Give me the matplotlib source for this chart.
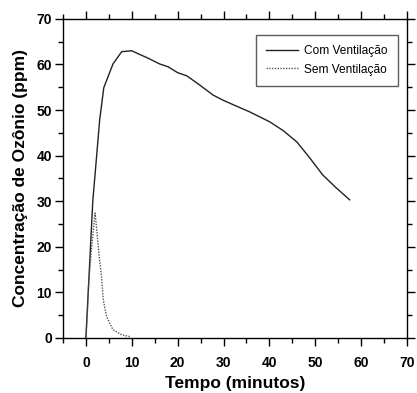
import matplotlib
matplotlib.use("Agg")
import matplotlib.pyplot as plt
from matplotlib.ticker import MultipleLocator

plt.rcParams['font.family'] = ['Liberation Sans', 'DejaVu Sans']

com_x = [0, 1.5, 3.0, 3.9, 5.9, 7.8, 10.0, 11.5, 13.5, 16.1, 17.9, 20.0, 22.0, 24.8, 27.7, 29.8, 32.5, 35.7, 37.9, 40.1, 43.0, 46.0, 48.8, 51.6, 54.5, 57.5]
com_y = [0, 30.0, 47.8, 54.9, 60.1, 62.8, 63.0, 62.3, 61.4, 60.1, 59.5, 58.2, 57.5, 55.5, 53.3, 52.2, 51.0, 49.6, 48.5, 47.4, 45.5, 43.0, 39.5, 35.8, 33.0, 30.3]

sem_x = [0, 0.3, 0.65, 1.2, 1.6, 2.0, 2.3, 2.9, 3.4, 3.8, 4.5, 5.9, 7.8, 9.6]
sem_y = [0, 5.0, 12.7, 19.3, 23.5, 27.4, 24.4, 17.8, 13.5, 8.3, 4.7, 1.8, 0.7, 0.3]

fig = plt.figure(figsize=(4.17, 3.93), dpi=100)
ax = fig.add_axes([0.151, 0.140, 0.825, 0.812])

ax.plot(com_x, com_y, color='#222222', lw=1.0, label='Com Ventilação')
ax.plot(sem_x, sem_y, color='#555555', lw=1.0, ls=(0, (1, 1)), label='Sem Ventilação')

ax.set_xlim(-5, 70)
ax.set_ylim(0, 70)
ax.xaxis.set_major_locator(MultipleLocator(10))
ax.xaxis.set_minor_locator(MultipleLocator(5))
ax.yaxis.set_major_locator(MultipleLocator(10))
ax.yaxis.set_minor_locator(MultipleLocator(5))
ax.tick_params(which='both', direction='out', top=True, right=True, width=1.0)
ax.tick_params(which='major', length=6)
ax.tick_params(which='minor', length=3.5)
ax.tick_params(axis='x', which='major', pad=7)
ax.tick_params(axis='y', which='major', pad=2)
for lbl in ax.get_xticklabels() + ax.get_yticklabels():
    lbl.set_fontweight('bold')
    lbl.set_fontsize(10)
for s in ax.spines.values():
    s.set_linewidth(1.0)

ax.set_xlabel('Tempo (minutos)', fontsize=12.5, fontweight='bold', labelpad=4)
ax.set_ylabel('Concentração de Ozônio (ppm)', fontsize=12.5, fontweight='bold', labelpad=6)

leg = ax.legend(loc='upper right', bbox_to_anchor=(0.974, 0.950), fontsize=8.6, frameon=True, fancybox=False,
                edgecolor='#333333', handlelength=2.7, handletextpad=0.5, borderpad=0.85, labelspacing=0.55,
                borderaxespad=0)
leg.get_frame().set_linewidth(1.0)
leg._legend_box.align = 'left'

fig.savefig('out.png', dpi=100)
